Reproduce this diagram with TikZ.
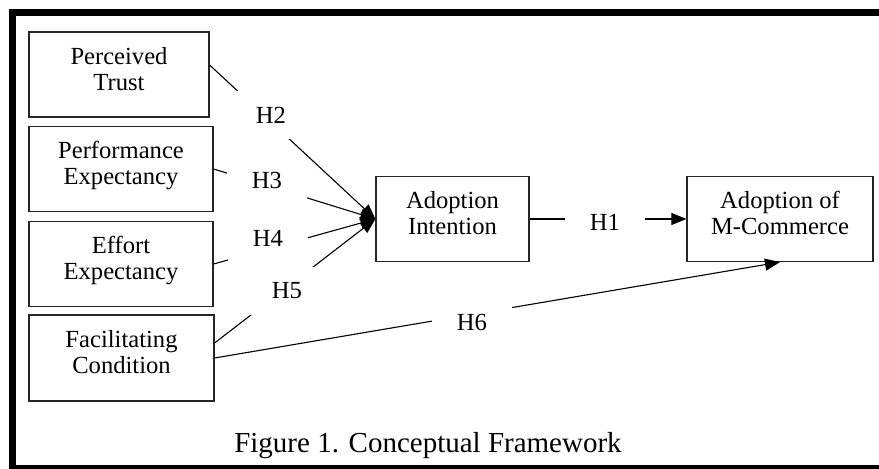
\documentclass[tikz,border=0pt]{standalone}
\usepackage{fontspec}
\setmainfont{Liberation Serif}
\usetikzlibrary{arrows.meta}
\begin{document}
\begin{tikzpicture}[x=0.5pt, y=-0.5pt,
  construct/.style={draw=black!85, line width=0.6pt, align=center, minimum height=42.5pt,
    text depth=5.8pt, inner sep=0pt, font=\fontsize{12.3}{13}\selectfont},
  link/.style={line width=0.55pt},
  tip/.style={-{Triangle[length=7.5pt,width=6pt]}},
  hyp/.style={fill=white, minimum width=40pt, minimum height=24pt, inner sep=0pt,
    font=\fontsize{12.3}{13}\selectfont}]
\useasboundingbox (0,0) rectangle (879,469);
\clip (0,0) rectangle (879,469);

\draw[line width=3.5pt] (900,12.5) -| (12.5,468.5) -- (900,468.5);

\node[construct, minimum width=90pt] (trust) at (119,74.5) {Perceived\\Trust};
\node[construct, minimum width=92pt] (perf) at (121,169) {Performance\\Expectancy};
\node[construct, minimum width=92pt] (effort) at (121,264) {Effort\\Expectancy};
\node[construct, minimum width=92.5pt, minimum height=43pt] (facil) at (121.5,358) {Facilitating\\Condition};
\node[construct, minimum width=76.5pt] (intent) at (452.5,219) {Adoption\\Intention};
\node[construct, minimum width=93pt] (mcom) at (780,219) {Adoption of\\M-Commerce};

\draw[link, tip] ([yshift=4.75pt]trust.east) -- (intent.west);
\draw[link, tip] (perf.east) -- (intent.west);
\draw[link, tip] (effort.east) -- (intent.west);
\draw[link, tip] ([yshift=7.5pt]facil.east) -- (intent.west);
\draw[link, tip] (facil.east) -- (mcom.south);
\draw[link, tip] (intent.east) -- (mcom.west);

\node[hyp] (h1) at (605,222) {H1};
\node[hyp] (h2) at (271,115) {H2};
\node[hyp] (h3) at (267,180) {H3};
\node[hyp] (h4) at (268,238) {H4};
\node[hyp] (h5) at (287,291) {H5};
\node[hyp] (h6) at (472,322) {H6};

\node[font=\fontsize{14.5}{16}\selectfont] (caption) at (428,446) {Figure 1. Conceptual Framework};

\end{tikzpicture}
\end{document}
